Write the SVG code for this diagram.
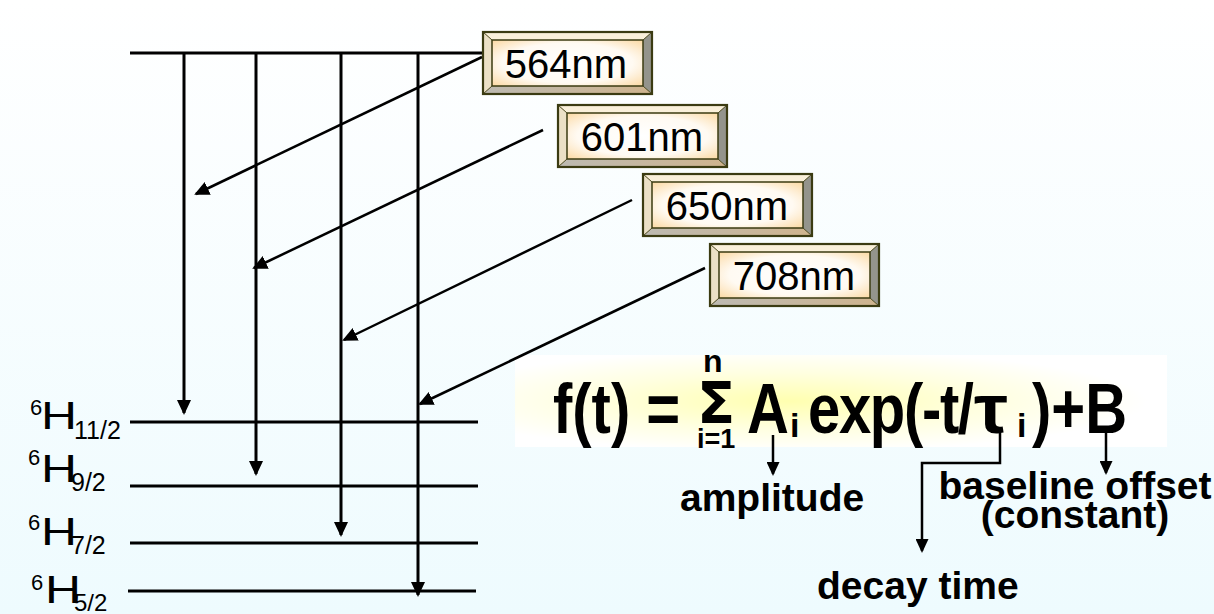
<svg xmlns="http://www.w3.org/2000/svg" width="1214" height="614" viewBox="0 0 1214 614">
<style>
.lvl{stroke:#000;stroke-width:3;fill:none}
.arr{stroke:#000;stroke-width:3;fill:none;marker-end:url(#ah)}
.diag{stroke:#000;stroke-width:2.5;fill:none;marker-end:url(#ah)}
.small{stroke:#000;stroke-width:2.5;fill:none;marker-end:url(#ah2)}
.bx{font-family:"Liberation Sans",Arial,sans-serif;font-size:40px;text-anchor:middle;fill:#000}
.lab{font-family:"Liberation Sans",Arial,sans-serif;fill:#000}
.f{font-family:"Liberation Sans",Arial,sans-serif;font-weight:bold;fill:#000}
.sig{font-family:"DejaVu Sans","Liberation Sans",sans-serif;font-weight:bold;fill:#000}
</style>
<defs>
<linearGradient id="bg" x1="0" y1="0" x2="0" y2="1"><stop offset="0" stop-color="#ffffff"/><stop offset="1" stop-color="#eefbfe"/></linearGradient>
<radialGradient id="fbg" cx="0.42" cy="0.5" r="0.55"><stop offset="0" stop-color="#ffffb0"/><stop offset="0.55" stop-color="#ffffe0"/><stop offset="1" stop-color="#ffffff"/></radialGradient>
<radialGradient id="face" cx="0.5" cy="0.5" r="0.72"><stop offset="0" stop-color="#ffffff"/><stop offset="0.6" stop-color="#fffaf2"/><stop offset="1" stop-color="#fbd79e"/></radialGradient>
<linearGradient id="bot" x1="0" y1="0" x2="1" y2="0"><stop offset="0" stop-color="#bdbab2"/><stop offset="1" stop-color="#cfb48e"/></linearGradient>
<marker id="ah" markerUnits="userSpaceOnUse" markerWidth="15" markerHeight="14" viewBox="0 0 15 14" refX="13" refY="7" orient="auto"><path d="M0,0 L15,7 L0,14 z" fill="#000"/></marker>
<marker id="ah2" markerUnits="userSpaceOnUse" markerWidth="14" markerHeight="13" viewBox="0 0 14 13" refX="12" refY="6.5" orient="auto"><path d="M0,0 L14,6.5 L0,13 z" fill="#000"/></marker>
<g id="bevel">
<rect x="0" y="0" width="169" height="62" fill="url(#face)"/>
<polygon points="0,0 169,0 160,8 9,8" fill="#faf0da"/>
<polygon points="0,0 9,8 9,54 0,62" fill="#ebe0c6"/>
<polygon points="169,0 169,62 160,54 160,8" fill="#94948c"/>
<polygon points="0,62 9,54 160,54 169,62" fill="url(#bot)"/>
<rect x="9" y="8" width="151" height="46" fill="url(#face)" stroke="#3b3b12" stroke-width="1.5"/>
<path d="M0,0 L9,8 M169,0 L160,8 M0,62 L9,54 M169,62 L160,54" stroke="#4a4a20" stroke-width="1"/>
<rect x="0" y="0" width="169" height="62" fill="none" stroke="#3b3b12" stroke-width="2.2"/>
</g>
</defs>
<rect x="0" y="0" width="1214" height="614" fill="url(#bg)"/>

<g id="levels">
<line class="lvl" x1="130" y1="53" x2="485" y2="53"/>
<line class="lvl" x1="130" y1="422" x2="478" y2="422"/>
<line class="lvl" x1="130" y1="486" x2="478" y2="486"/>
<line class="lvl" x1="130" y1="543" x2="478" y2="543"/>
<line class="lvl" x1="128" y1="591" x2="476" y2="591"/>
</g>

<g id="label-11-2">
<text class="lab" x="30" y="415" font-size="22">6</text>
<text class="lab" x="41" y="429" font-size="39" textLength="36" lengthAdjust="spacingAndGlyphs">H</text>
<text class="lab" x="74" y="439" font-size="25">11/2</text>
</g>
<g id="label-9-2">
<text class="lab" x="28" y="465" font-size="22">6</text>
<text class="lab" x="41" y="482" font-size="39" textLength="36" lengthAdjust="spacingAndGlyphs">H</text>
<text class="lab" x="71" y="491" font-size="25">9/2</text>
</g>
<g id="label-7-2">
<text class="lab" x="28" y="530" font-size="22">6</text>
<text class="lab" x="41" y="545" font-size="39" textLength="36" lengthAdjust="spacingAndGlyphs">H</text>
<text class="lab" x="71" y="554" font-size="25">7/2</text>
</g>
<g id="label-5-2">
<text class="lab" x="31" y="590" font-size="22">6</text>
<text class="lab" x="45" y="603" font-size="39" textLength="36" lengthAdjust="spacingAndGlyphs">H</text>
<text class="lab" x="74" y="611" font-size="24">5/2</text>
</g>

<g id="formula">
<rect x="515" y="355" width="652" height="92" fill="url(#fbg)"/>
<g class="f" font-size="58" transform="translate(0,433) scale(1,1.22)">
<text x="553" y="0">f(t) =</text>
<text x="747" y="0">A</text>
<text x="808" y="0" textLength="166">exp(-t/</text>
<text x="974" y="0" textLength="34" lengthAdjust="spacingAndGlyphs">τ</text>
<text x="1032" y="0">)+B</text>
</g>
<text class="sig" x="697" y="423" font-size="56">Σ</text>
<text class="f" x="703" y="372" font-size="32">n</text>
<text class="f" x="697" y="448" font-size="27">i=1</text>
<text class="f" x="790" y="437" font-size="34">i</text>
<text class="f" x="1017" y="437" font-size="34">i</text>
</g>

<g id="connectors">
<line class="arr" x1="184" y1="53" x2="184" y2="413"/>
<line class="arr" x1="256" y1="53" x2="256" y2="474"/>
<line class="arr" x1="341" y1="53" x2="341" y2="535"/>
<line class="arr" x1="418" y1="53" x2="418" y2="595"/>
<line class="diag" x1="482" y1="57" x2="196" y2="194"/>
<line class="diag" x1="543" y1="130" x2="254" y2="268"/>
<line class="diag" x1="632" y1="200" x2="344" y2="340"/>
<line class="diag" x1="705" y1="268" x2="420" y2="404"/>
<line class="small" x1="773" y1="435" x2="773" y2="474"/>
<path class="small" d="M1000,433 V463 H922 V551"/>
<line class="small" x1="1106" y1="433" x2="1106" y2="473"/>
</g>

<g id="box-564"><use href="#bevel" x="483" y="32"/><text class="bx" x="566" y="78">564nm</text></g>
<g id="box-601"><use href="#bevel" x="558" y="105"/><text class="bx" x="642" y="151">601nm</text></g>
<g id="box-650"><use href="#bevel" x="643" y="174"/><text class="bx" x="727" y="220">650nm</text></g>
<g id="box-708"><use href="#bevel" x="710" y="244"/><text class="bx" x="794" y="290">708nm</text></g>

<g id="label-amplitude"><text class="f" x="680" y="511" font-size="39">amplitude</text></g>
<g id="label-decay"><text class="f" x="817" y="599" font-size="39">decay time</text></g>
<g id="label-baseline"><text class="f" x="1075" y="499" font-size="39" text-anchor="middle">baseline offset</text><text class="f" x="1075" y="528" font-size="39" text-anchor="middle">(constant)</text></g>
</svg>
